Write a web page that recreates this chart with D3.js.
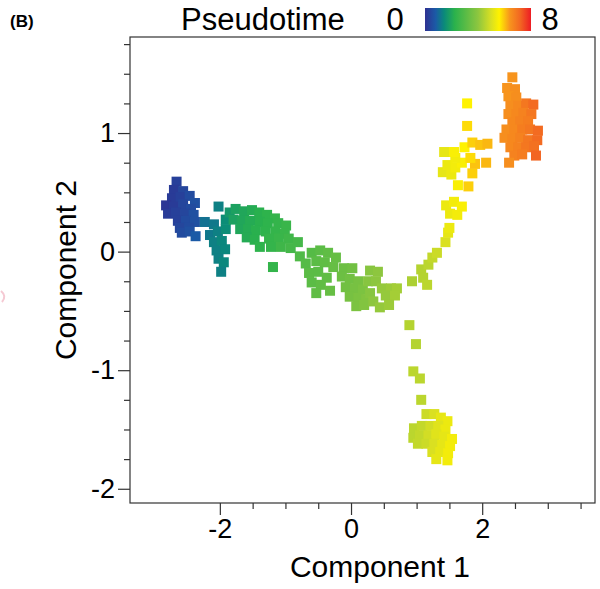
<!DOCTYPE html>
<head>
  <meta charset="utf-8">
  <script src="https://d3js.org/d3.v7.min.js"></script>
  <style>
    body { margin:0; background:#fff; }
    svg { font-family: "Liberation Sans", Arial, sans-serif; }
  </style>
</head>

<body>
  <script>
    var width = 600;
    var height = 589;

    // cell coordinates (component 1, component 2)
    var comp1 = [
      // blue start
      -2.66,-2.70,-2.56,-2.73,-2.60,-2.46,-2.38,-2.82,-2.70,-2.56,-2.44,-2.79,-2.67,-2.53,-2.40,-2.64,-2.52,-2.38,-2.61,-2.47,-2.58,-2.46,-2.37,
      // teal
      -2.02,-2.23,-2.09,-1.91,-1.85,-2.15,-2.03,-1.91,-2.09,-1.97,-2.05,-1.92,-2.02,-1.94,-1.98,
      // green
      -1.76,-1.63,-1.51,-1.40,-1.28,-1.16,-1.79,-1.66,-1.54,-1.39,-1.27,-1.11,-0.99,-1.69,-1.57,-1.45,-1.30,-1.15,-1.01,-1.59,-1.47,-1.25,-1.10,-0.95,-1.39,-1.22,-1.07,-0.92,-0.81,-1.19,
      // band
      -0.78,-0.69,-0.60,-0.47,-0.35,-0.23,-0.53,-0.40,-0.27,-0.64,-0.50,-0.37,-0.60,-0.46,-0.53,-0.32,
      // green cluster
      -0.11,0.02,-0.14,-0.02,0.11,-0.08,0.06,0.18,-0.02,0.11,0.23,0.08,0.20,
      // light green
      0.29,0.41,0.26,0.38,0.29,0.47,0.61,0.70,0.53,0.67,0.34,0.44,0.58,
      // rising branch
      0.93,1.07,1.10,1.16,1.18,1.24,1.31,1.44,1.48,
      // falling stem
      0.89,0.99,0.95,1.05,1.07,
      // bottom cluster
      1.15,1.27,1.37,1.47,0.96,1.08,1.21,1.33,1.44,0.95,1.05,1.18,1.30,1.42,1.54,1.02,1.15,1.27,1.39,1.51,1.24,1.36,1.48,1.30,1.47,
      // upper yellow
      1.50,1.45,1.57,1.69,1.51,1.62,1.79,1.63,1.40,1.53,1.47,1.59,1.69,1.85,1.89,2.06,1.59,1.82,1.42,1.73,1.85,1.97,2.08,1.77,1.77,1.57,
      // orange
      2.46,2.38,2.50,2.40,2.52,2.43,2.55,2.67,2.78,2.40,2.52,2.63,2.75,2.46,2.58,2.70,2.37,2.49,2.61,2.73,2.85,2.34,2.46,2.58,2.70,2.84,2.43,2.55,2.67,2.79,2.49,2.61,2.41,2.82
    ];
    var comp2 = [
      0.59,0.52,0.51,0.45,0.46,0.47,0.41,0.39,0.38,0.40,0.36,0.32,0.33,0.32,0.31,0.26,0.26,0.25,0.20,0.20,0.16,0.17,0.13,
      0.38,0.25,0.23,0.27,0.33,0.14,0.17,0.19,0.08,0.09,0.01,0.02,-0.06,-0.09,-0.17,
      0.36,0.34,0.35,0.33,0.31,0.28,0.27,0.26,0.26,0.25,0.24,0.24,0.22,0.19,0.19,0.18,0.17,0.17,0.15,0.12,0.10,0.11,0.11,0.11,0.04,0.04,0.04,0.03,0.08,-0.13,
      -0.04,-0.10,-0.01,0.01,-0.01,-0.05,-0.08,-0.09,-0.13,-0.18,-0.17,-0.22,-0.26,-0.28,-0.35,-0.33,
      -0.14,-0.14,-0.21,-0.23,-0.25,-0.30,-0.31,-0.32,-0.38,-0.39,-0.40,-0.46,-0.45,
      -0.16,-0.17,-0.25,-0.25,-0.35,-0.31,-0.31,-0.31,-0.37,-0.37,-0.42,-0.47,-0.45,
      -0.25,-0.15,-0.22,-0.28,-0.11,-0.05,-0.01,0.08,0.16,
      -0.62,-0.78,-1.01,-1.07,-1.25,
      -1.37,-1.37,-1.40,-1.43,-1.49,-1.47,-1.47,-1.47,-1.50,-1.57,-1.55,-1.55,-1.54,-1.56,-1.58,-1.62,-1.62,-1.62,-1.63,-1.64,-1.69,-1.69,-1.70,-1.75,-1.76,
      0.20,0.39,0.42,0.38,0.32,0.31,0.55,0.56,0.67,0.65,0.73,0.71,0.75,0.66,0.74,0.75,0.79,0.79,0.84,0.88,0.92,0.90,0.91,1.06,1.25,0.84,
      1.47,1.38,1.37,1.31,1.30,1.23,1.23,1.25,1.24,1.16,1.16,1.17,1.16,1.09,1.10,1.10,1.03,1.03,1.03,1.03,1.02,0.96,0.95,0.96,0.94,0.94,0.88,0.88,0.88,0.89,0.81,0.82,0.75,0.81
    ];
    var pseudotime = [
      0.3,0.2,0.4,0.2,0.3,0.5,0.6,0.1,0.2,0.4,0.5,0.2,0.3,0.4,0.6,0.3,0.5,0.6,0.4,0.5,0.5,0.6,0.8,
      1.3,1.1,1.2,1.5,1.7,1.2,1.3,1.5,1.3,1.4,1.3,1.4,1.3,1.4,1.3,
      1.9,2.0,2.1,2.2,2.3,2.4,1.9,2.0,2.1,2.2,2.3,2.4,2.5,2.0,2.1,2.2,2.3,2.4,2.5,2.1,2.2,2.4,2.5,2.6,2.3,2.4,2.6,2.7,2.7,2.4,
      2.9,3.0,3.0,3.1,3.2,3.3,3.1,3.2,3.3,3.1,3.1,3.2,3.1,3.2,3.2,3.3,
      3.4,3.5,3.4,3.5,3.6,3.5,3.6,3.7,3.6,3.7,3.8,3.7,3.8,
      3.9,4.0,3.9,4.0,3.9,4.1,4.2,4.3,4.1,4.3,4.0,4.1,4.2,
      4.4,4.5,4.5,4.6,4.6,4.7,4.8,5.0,5.2,
      4.5,4.5,4.6,4.6,4.6,
      4.8,5.0,5.2,5.3,4.6,4.7,4.9,5.1,5.3,4.6,4.7,4.9,5.1,5.2,5.4,4.7,4.8,5.0,5.2,5.4,5.0,5.2,5.4,5.2,5.4,
      5.3,5.3,5.4,5.5,5.3,5.4,5.9,5.5,5.2,5.3,5.3,5.4,5.5,5.9,6.0,6.1,5.4,5.8,5.2,5.6,5.9,6.0,6.1,5.8,5.6,5.5,
      6.4,6.4,6.5,6.4,6.5,6.5,6.6,6.9,7.1,6.5,6.6,6.7,6.9,6.6,6.7,6.8,6.5,6.6,6.8,6.9,7.1,6.5,6.6,6.7,6.9,7.1,6.6,6.7,6.9,7.0,6.7,6.8,6.5,7.2
    ];

    var colourStops = [0, 0.8, 1.44, 2.24, 4.0, 4.96, 5.6, 6.4, 7.2, 8];
    var colourValues = ["#2e3192", "#1b5aa6", "#0a8a7a", "#2bb24c", "#8dc63f", "#d7df23", "#fff200", "#f7941d", "#f26522", "#ed1c24"];

    var xMajor = [-2, 0, 2];
    var xMinor = [-1.5, -1, -0.5, 0.5, 1, 1.5, 2.5, 3, 3.5];
    var yMajor = [-2, -1, 0, 1];
    var yMinor = [-1.75, -1.5, -1.25, -0.75, -0.5, -0.25, 0.25, 0.5, 0.75, 1.25, 1.5, 1.75];

    var plotL = 130, plotR = 595, plotT = 37, plotB = 503;

    var svg = d3.select("body")
      .append("svg")
      .attr("width", width)
      .attr("height", height);

    var x = d3.scaleLinear().domain([-3.37, 3.72]).range([plotL, plotR]);
    var y = d3.scaleLinear().domain([-2.12, 1.81]).range([plotB, plotT]);
    var colour = d3.scaleLinear().domain(colourStops).range(colourValues).clamp(true);

    var cells = comp1.map(function(c, i) {
      return { c1: c, c2: comp2[i], t: pseudotime[i] };
    });

    var sq = 10;
    svg.append("g")
      .selectAll("rect")
      .data(cells)
      .enter()
      .append("rect")
      .attr("x", function(d) { return x(d.c1) - sq / 2; })
      .attr("y", function(d) { return y(d.c2) - sq / 2; })
      .attr("width", sq)
      .attr("height", sq)
      .attr("fill", function(d) { return colour(d.t); });

    // frame
    svg.append("rect")
      .attr("x", plotL).attr("y", plotT)
      .attr("width", plotR - plotL).attr("height", plotB - plotT)
      .attr("fill", "none").attr("stroke", "#333").attr("stroke-width", 1.2);

    function fmt(d) { return String(d); }

    var gx = svg.append("g").attr("transform", "translate(0," + plotB + ")");
    gx.call(d3.axisBottom(x).tickValues(xMajor).tickSize(12).tickPadding(4).tickFormat(fmt));
    var gx2 = svg.append("g").attr("transform", "translate(0," + plotB + ")");
    gx2.call(d3.axisBottom(x).tickValues(xMinor).tickSize(6).tickFormat(""));

    var gy = svg.append("g").attr("transform", "translate(" + plotL + ",0)");
    gy.call(d3.axisLeft(y).tickValues(yMajor).tickSize(12).tickPadding(3).tickFormat(fmt));
    var gy2 = svg.append("g").attr("transform", "translate(" + plotL + ",0)");
    gy2.call(d3.axisLeft(y).tickValues(yMinor).tickSize(6).tickFormat(""));

    svg.selectAll(".domain").remove();
    svg.selectAll(".tick line").attr("stroke", "#333").attr("stroke-width", 1.2);
    svg.selectAll(".tick text")
      .attr("fill", "#000")
      .style("font-size", "27px")
      .style("font-family", "'Liberation Sans', Arial, sans-serif");

    svg.append("text")
      .attr("x", 380).attr("y", 577)
      .attr("text-anchor", "middle")
      .style("font-size", "30px")
      .text("Component 1");

    svg.append("text")
      .attr("transform", "translate(76,270) rotate(-90)")
      .attr("text-anchor", "middle")
      .style("font-size", "30px")
      .text("Component 2");

    // panel tag
    svg.append("text")
      .attr("x", 10).attr("y", 27)
      .style("font-size", "17px")
      .style("font-weight", "bold")
      .text("(B)");

    // legend
    var grad = svg.append("defs").append("linearGradient")
      .attr("id", "pt").attr("x1", "0%").attr("x2", "100%");
    grad.selectAll("stop")
      .data(colourStops)
      .enter()
      .append("stop")
      .attr("offset", function(d) { return (d / 8 * 100) + "%"; })
      .attr("stop-color", function(d, i) { return colourValues[i]; });

    svg.append("text")
      .attr("x", 181).attr("y", 30)
      .style("font-size", "31px")
      .text("Pseudotime");
    svg.append("text")
      .attr("x", 395).attr("y", 30)
      .attr("text-anchor", "middle")
      .style("font-size", "31px")
      .text("0");
    svg.append("rect")
      .attr("x", 425).attr("y", 8)
      .attr("width", 106).attr("height", 23)
      .attr("fill", "url(#pt)");
    svg.append("text")
      .attr("x", 550).attr("y", 30)
      .attr("text-anchor", "middle")
      .style("font-size", "31px")
      .text("8");

    // faint mark at the left edge
    svg.append("path")
      .attr("d", "M1,291 Q7,296 2,302")
      .attr("fill", "none")
      .attr("stroke", "#f5c9d3")
      .attr("stroke-width", 2);
  </script>
</body>
